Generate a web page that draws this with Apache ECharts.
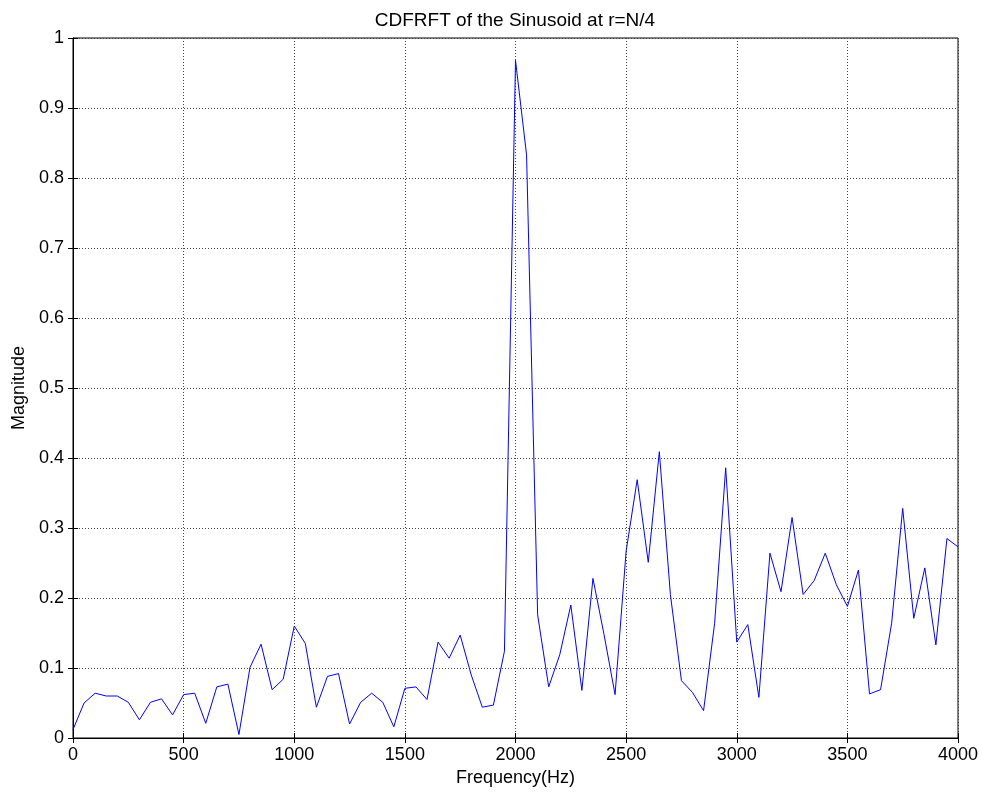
<!DOCTYPE html>
<html>
<head>
<meta charset="utf-8">
<title>CDFRFT of the Sinusoid at r=N/4</title>
<script src="https://cdn.jsdelivr.net/npm/echarts@6/dist/echarts.min.js"></script>
<style>
  html, body { margin: 0; padding: 0; background: #fff; }
  #chart { width: 982px; height: 794px; }
</style>
</head>
<body>
<div id="chart"></div>
<script>
// Frequency bins (Hz), 50 Hz apart
const frequency = [
  0, 50, 100, 150, 200, 250, 300, 350, 400, 450,
  500, 550, 600, 650, 700, 750, 800, 850, 900, 950,
  1000, 1050, 1100, 1150, 1200, 1250, 1300, 1350, 1400, 1450,
  1500, 1550, 1600, 1650, 1700, 1750, 1800, 1850, 1900, 1950,
  2000, 2050, 2100, 2150, 2200, 2250, 2300, 2350, 2400, 2450,
  2500, 2550, 2600, 2650, 2700, 2750, 2800, 2850, 2900, 2950,
  3000, 3050, 3100, 3150, 3200, 3250, 3300, 3350, 3400, 3450,
  3500, 3550, 3600, 3650, 3700, 3750, 3800, 3850, 3900, 3950,
  4000
];

// CDFRFT magnitude at each bin
const magnitude = [
  0.012, 0.050, 0.064, 0.060, 0.060, 0.051, 0.026, 0.051, 0.056, 0.033,
  0.062, 0.064, 0.021, 0.073, 0.077, 0.005, 0.101, 0.134, 0.069, 0.084,
  0.160, 0.135, 0.044, 0.088, 0.092, 0.020, 0.051, 0.064, 0.051, 0.016,
  0.071, 0.073, 0.055, 0.137, 0.114, 0.147, 0.090, 0.044, 0.047, 0.124,
  0.968, 0.833, 0.176, 0.073, 0.119, 0.190, 0.068, 0.228, 0.148, 0.062,
  0.267, 0.369, 0.251, 0.409, 0.205, 0.082, 0.065, 0.039, 0.164, 0.386,
  0.137, 0.162, 0.058, 0.264, 0.209, 0.315, 0.205, 0.225, 0.264, 0.219,
  0.188, 0.240, 0.063, 0.069, 0.164, 0.328, 0.171, 0.243, 0.133, 0.285,
  0.273
];

const xTicks = { min: 0, max: 4000, interval: 500 };
const yTicks = { min: 0, max: 1, interval: 0.1 };

const chartTitle = 'CDFRFT of the Sinusoid at r=N/4';
const xName = 'Frequency(Hz)';
const yName = 'Magnitude';

const font = '"Liberation Sans", Arial, sans-serif';
const chart = echarts.init(document.getElementById('chart'), null, { renderer: 'canvas' });

const tickStyle = { show: true, inside: true, length: 5, lineStyle: { color: '#000', width: 1 } };
const gridLine = { show: true, lineStyle: { color: '#444', width: 1, type: [1, 2] } };

chart.setOption({
  animation: false,
  backgroundColor: '#fff',
  title: {
    text: chartTitle,
    left: 510,
    top: 6,
    textAlign: 'center',
    textStyle: { fontFamily: font, fontSize: 19, fontWeight: 'normal', color: '#000' }
  },
  grid: { left: 73, top: 38, width: 885, height: 700, containLabel: false, show: true, borderColor: '#000', borderWidth: 1 },
  xAxis: [
    {
      type: 'value', position: 'bottom',
      min: xTicks.min, max: xTicks.max, interval: xTicks.interval,
      name: xName, nameLocation: 'middle', nameGap: 30,
      nameTextStyle: { fontFamily: font, fontSize: 18, color: '#000' },
      axisLine: { show: true, lineStyle: { color: '#000', width: 1 } },
      axisTick: tickStyle,
      axisLabel: { margin: 8, fontFamily: font, fontSize: 18, color: '#000', formatter: v => String(v) },
      splitLine: gridLine
    },
    {
      type: 'value', position: 'top',
      min: xTicks.min, max: xTicks.max, interval: xTicks.interval,
      axisLine: { show: true, lineStyle: { color: '#000', width: 1 } },
      axisTick: tickStyle,
      axisLabel: { show: false },
      splitLine: { show: false }
    }
  ],
  yAxis: [
    {
      type: 'value', position: 'left',
      min: yTicks.min, max: yTicks.max, interval: yTicks.interval,
      name: yName, nameLocation: 'middle', nameGap: 45, nameRotate: 90,
      nameTextStyle: { fontFamily: font, fontSize: 18, color: '#000' },
      axisLine: { show: true, lineStyle: { color: '#000', width: 1 } },
      axisTick: tickStyle,
      axisLabel: {
        margin: 9, fontFamily: font, fontSize: 18, color: '#000',
        formatter: v => String(Math.round(v * 10) / 10)
      },
      splitLine: gridLine
    },
    {
      type: 'value', position: 'right',
      min: yTicks.min, max: yTicks.max, interval: yTicks.interval,
      axisLine: { show: true, lineStyle: { color: '#000', width: 1 } },
      axisTick: tickStyle,
      axisLabel: { show: false },
      splitLine: { show: false }
    }
  ],
  series: [
    {
      type: 'line',
      xAxisIndex: 0,
      yAxisIndex: 0,
      data: frequency.map((f, i) => [f, magnitude[i]]),
      showSymbol: false,
      symbol: 'none',
      lineStyle: { color: '#0000ff', width: 1 },
      itemStyle: { color: '#0000ff' },
      z: 5
    }
  ]
});
</script>
</body>
</html>
